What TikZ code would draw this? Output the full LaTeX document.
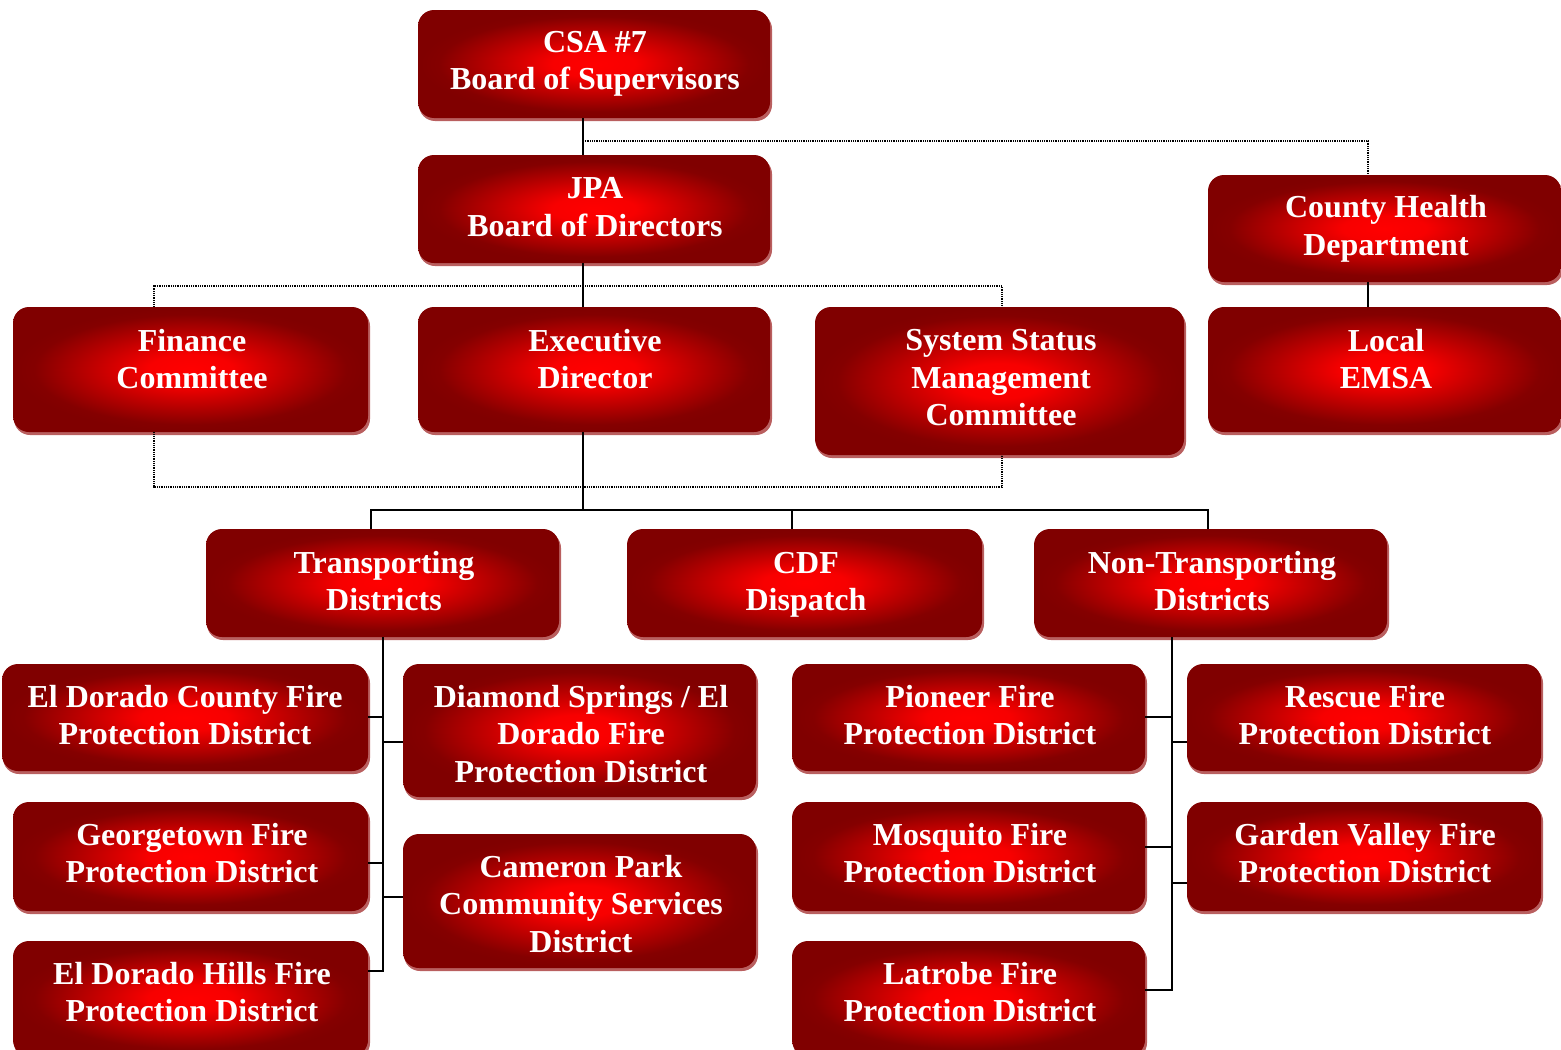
\documentclass[tikz,border=0pt]{standalone}
\usepackage{fontspec}
\setmainfont{Liberation Serif}
\usetikzlibrary{calc}
\pgfdeclareradialshading{boxshade}{\pgfpoint{0bp}{0bp}}{rgb(0bp)=(1,0,0); rgb(6bp)=(0.97,0,0); rgb(22bp)=(0.52,0,0); rgb(25bp)=(0.5,0,0); rgb(50bp)=(0.5,0,0)}
\definecolor{shadowc}{RGB}{185,95,95}
\tikzset{
  orgbox/.style={rectangle, rounded corners=8pt, shading=boxshade, inner sep=0pt},
  orgtext/.style={text=white, align=center, inner sep=0pt, font=\bfseries\fontsize{16}{18.75}\selectfont},
  conn/.style={draw=black, line width=1pt},
  dotc/.style={draw=black, line width=0.6pt, dash pattern=on 0.5pt off 0.4pt},
}
\newcommand{\obox}[8]{%
  \fill[shadowc, rounded corners=8pt] (#2+1,#3+3) rectangle (#4+2,#5+3);
  \node[orgbox, minimum width={(#4-#2)*0.5pt}, minimum height={(#5-#3)*0.5pt}] (#1) at ({(#2+#4)/2},{(#3+#5)/2}) {};
  \node[orgtext] (#1-t) at (#6,#7) {#8};
}
\begin{document}
\begin{tikzpicture}[x=0.5pt, y=-0.5pt]
\useasboundingbox (0,0) rectangle (1561,1049);
% boxes
\obox{csa}{418}{10}{770}{118}{595}{64}{CSA \#7\\Board of Supervisors}
\obox{jpa}{418}{155}{770}{263}{595}{207}{JPA\\Board of Directors}
\obox{chd}{1208}{175}{1561}{282}{1386}{229}{County Health\\Department}
\obox{fin}{13}{307}{368}{432}{192}{359}{Finance\\Committee}
\obox{ed}{418}{307}{770}{432}{595}{359}{Executive\\Director}
\obox{ssmc}{815}{307}{1184}{455}{1001}{378}{System Status\\Management\\Committee}
\obox{emsa}{1208}{307}{1561}{432}{1386}{359}{Local\\EMSA}
\obox{trans}{206}{529}{559}{637}{384}{581}{Transporting\\Districts}
\obox{cdf}{627}{529}{982}{637}{806}{585}{CDF\\Dispatch}
\obox{ntrans}{1034}{529}{1387}{637}{1212}{581}{Non-Transporting\\Districts}
\obox{edc}{2}{664}{368}{771}{185}{715}{El Dorado County Fire\\Protection District}
\obox{dsp}{403}{664}{756}{797}{581}{734}{Diamond Springs / El\\Dorado Fire\\Protection District}
\obox{geo}{13}{802}{368}{911}{192}{853}{Georgetown Fire\\Protection District}
\obox{cam}{403}{834}{756}{968}{581}{904}{Cameron Park\\Community Services\\District}
\obox{edh}{13}{941}{368}{1056}{192}{992}{El Dorado Hills Fire\\Protection District}
\obox{pio}{792}{664}{1145}{771}{970}{715}{Pioneer Fire\\Protection District}
\obox{res}{1187}{664}{1541}{771}{1365}{715}{Rescue Fire\\Protection District}
\obox{mos}{792}{802}{1145}{911}{970}{853}{Mosquito Fire\\Protection District}
\obox{gv}{1187}{802}{1541}{911}{1365}{853}{Garden Valley Fire\\Protection District}
\obox{lat}{792}{941}{1145}{1056}{970}{992}{Latrobe Fire\\Protection District}
% coordinates
\coordinate (sx) at (583,0);
\coordinate (hx) at (1368,141);
\coordinate (d1) at (154,286);
\coordinate (d2) at (1002,286);
\coordinate (d3) at (154,487);
\coordinate (d4) at (1002,487);
\coordinate (b1) at (371,510);
\coordinate (b2) at (1208,510);
\coordinate (b3) at (792,510);
\coordinate (ts) at (383,971);
\coordinate (ns) at (1172,990);
\coordinate (t1) at (383,717);
\coordinate (t2) at (383,742);
\coordinate (t3) at (383,863);
\coordinate (t4) at (383,897);
\coordinate (n1) at (1172,717);
\coordinate (n2) at (1172,742);
\coordinate (n3) at (1172,847);
\coordinate (n4) at (1172,883);
% solid connectors
\draw[conn] (csa.south -| sx) -- (jpa.north -| sx);
\draw[conn] (jpa.south -| sx) -- (ed.north -| sx);
\draw[conn] (chd.south -| hx) -- (emsa.north -| hx);
\draw[conn] (ed.south -| sx) -- (sx |- b1);
\draw[conn] (trans.north -| b1) -- (b1) -- (b2) -- (ntrans.north -| b2);
\draw[conn] (b3) -- (cdf.north -| b3);
\draw[conn] (trans.south -| ts) -- (ts) -- (edh.east |- ts);
\draw[conn] (t1) -- (edc.east |- t1);
\draw[conn] (t2) -- (dsp.west |- t2);
\draw[conn] (t3) -- (geo.east |- t3);
\draw[conn] (t4) -- (cam.west |- t4);
\draw[conn] (ntrans.south -| ns) -- (ns) -- (lat.east |- ns);
\draw[conn] (n1) -- (pio.east |- n1);
\draw[conn] (n2) -- (res.west |- n2);
\draw[conn] (n3) -- (mos.east |- n3);
\draw[conn] (n4) -- (gv.west |- n4);
% dotted connectors
\draw[dotc] (sx |- hx) -- (hx) -- (chd.north -| hx);
\draw[dotc] (fin.north -| d1) -- (d1) -- (d2) -- (ssmc.north -| d2);
\draw[dotc] (fin.south -| d3) -- (d3) -- (d4) -- (ssmc.south -| d4);
\end{tikzpicture}
\end{document}
